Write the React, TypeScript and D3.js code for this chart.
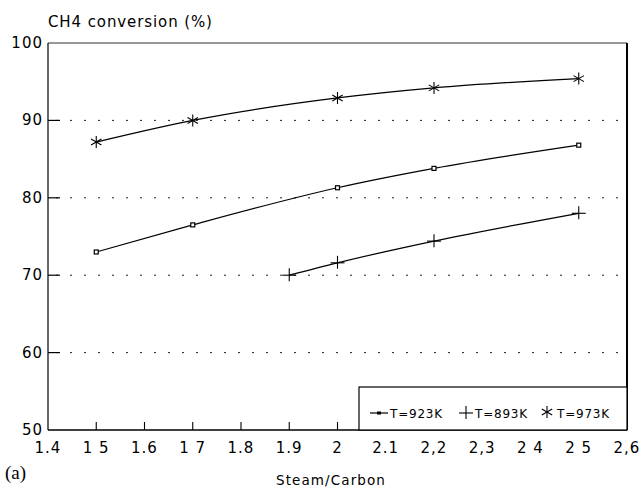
import React from 'react';
import * as d3 from 'd3';

// values
const steamCarbon923 = [1.5, 1.7, 2.0, 2.2, 2.5];
const conv923 = [73.0, 76.5, 81.3, 83.8, 86.8];
const steamCarbon893 = [1.9, 2.0, 2.2, 2.5];
const conv893 = [70.0, 71.6, 74.4, 78.0];
const steamCarbon973 = [1.5, 1.7, 2.0, 2.2, 2.5];
const conv973 = [87.2, 90.0, 92.9, 94.2, 95.4];

const xTicks = [1.4, 1.5, 1.6, 1.7, 1.8, 1.9, 2.0, 2.1, 2.2, 2.3, 2.4, 2.5, 2.6];
const xTickLabels = ['1.4', '1 5', '1.6', '1 7', '1.8', '1.9', '2', '2.1', '2,2', '2,3', '2 4', '2 5', '2,6'];
const yTicks = [50, 60, 70, 80, 90, 100];
const gridValues = [60, 70, 80, 90];
const legendLabels = ['T=923K', 'T=893K', 'T=973K'];

const W = 644;
const H = 489;
const left = 48;
const right = 627;
const top = 43;
const bottom = 430;

const x = d3.scaleLinear().domain([1.4, 2.6]).range([left, right]);
const y = d3.scaleLinear().domain([50, 100]).range([bottom, top]);

const line = d3
  .line<[number, number]>()
  .x(d => x(d[0]))
  .y(d => y(d[1]))
  .curve(d3.curveMonotoneX);

const zip = (a: number[], b: number[]) => a.map((v, i) => [v, b[i]] as [number, number]);

const font = '"DejaVu Sans", Verdana, sans-serif';

const Square = ({ cx, cy }: { cx: number; cy: number }) => (
  <rect x={cx - 2} y={cy - 2} width={4} height={4} fill="white" stroke="black" strokeWidth={1.2} />
);

const Plus = ({ cx, cy }: { cx: number; cy: number }) => (
  <g stroke="black" strokeWidth={1.1}>
    <line x1={cx - 7} x2={cx + 7} y1={cy} y2={cy} />
    <line x1={cx} x2={cx} y1={cy - 7} y2={cy + 6} />
  </g>
);

const Star = ({ cx, cy }: { cx: number; cy: number }) => {
  const r = 6;
  const angles = [90, 30, 150];
  return (
    <g stroke="black" strokeWidth={1.1}>
      {angles.map(a => {
        const dx = r * Math.cos((a * Math.PI) / 180);
        const dy = r * Math.sin((a * Math.PI) / 180);
        return <line key={a} x1={cx - dx} y1={cy - dy} x2={cx + dx} y2={cy + dy} />;
      })}
    </g>
  );
};

export default function App() {
  const d923 = zip(steamCarbon923, conv923);
  const d893 = zip(steamCarbon893, conv893);
  const d973 = zip(steamCarbon973, conv973);

  const legendY = 413;

  return (
    <svg
      width={W}
      height={H}
      style={{ position: 'absolute', left: 0, top: 0, background: 'white' }}
    >
      <rect width={W} height={H} fill="white" />

      {/* dotted gridlines */}
      {gridValues.map(v => (
        <line
          key={v}
          x1={left}
          x2={right}
          y1={y(v)}
          y2={y(v)}
          stroke="#222"
          strokeWidth={1}
          strokeDasharray="2,12"
          strokeDashoffset={-8}
        />
      ))}

      {/* y ticks pointing inward */}
      {gridValues.map(v => (
        <line key={'yt' + v} x1={left} x2={left + 12} y1={y(v)} y2={y(v)} stroke="black" strokeWidth={1.2} />
      ))}

      {/* x ticks pointing up */}
      {xTicks.slice(1, -1).map(v => (
        <line key={'xt' + v} x1={x(v)} x2={x(v)} y1={bottom} y2={bottom - 8} stroke="black" strokeWidth={1.1} />
      ))}

      {/* frame */}
      <line x1={left} x2={right} y1={top} y2={top} stroke="#333" strokeWidth={1} />
      <line x1={left} x2={left} y1={top} y2={bottom} stroke="black" strokeWidth={1.2} />
      <line x1={left} x2={right} y1={bottom} y2={bottom} stroke="black" strokeWidth={1.3} />
      <line x1={right} x2={right} y1={top} y2={bottom} stroke="black" strokeWidth={2} />

      {/* series lines */}
      {[d923, d893, d973].map((d, i) => (
        <path key={i} d={line(d) || ''} fill="none" stroke="black" strokeWidth={1.2} />
      ))}

      {d923.map((d, i) => (
        <Square key={'s' + i} cx={x(d[0])} cy={y(d[1])} />
      ))}
      {d893.map((d, i) => (
        <Plus key={'p' + i} cx={x(d[0])} cy={y(d[1])} />
      ))}
      {d973.map((d, i) => (
        <Star key={'a' + i} cx={x(d[0])} cy={y(d[1])} />
      ))}

      {/* y tick labels */}
      {yTicks.map(v => (
        <text
          key={'yl' + v}
          x={left - 5}
          y={y(v) + 5}
          textAnchor="end"
          fontFamily={font}
          fontSize={15}
          letterSpacing={1}
          fill="black"
        >
          {v}
        </text>
      ))}

      {/* x tick labels */}
      {xTicks.map((v, i) => (
        <text
          key={'xl' + v}
          x={x(v)}
          y={bottom + 23}
          textAnchor="middle"
          fontFamily={font}
          fontSize={15}
          letterSpacing={1}
          fill="black"
        >
          {xTickLabels[i]}
        </text>
      ))}

      {/* legend */}
      <rect x={359} y={387} width={right - 359} height={bottom - 387} fill="white" stroke="black" strokeWidth={1.2} />
      <line x1={370} x2={388} y1={legendY} y2={legendY} stroke="black" strokeWidth={1.2} />
      <rect x={377} y={legendY - 1.5} width={4} height={3} fill="black" />
      <text x={390} y={legendY + 5} fontFamily={font} fontSize={12} letterSpacing={0.8} fill="black">
        {legendLabels[0]}
      </text>
      <Plus cx={466} cy={legendY} />
      <text x={475} y={legendY + 5} fontFamily={font} fontSize={12} letterSpacing={0.8} fill="black">
        {legendLabels[1]}
      </text>
      <Star cx={547} cy={legendY - 1} />
      <text x={557} y={legendY + 5} fontFamily={font} fontSize={12} letterSpacing={0.8} fill="black">
        {legendLabels[2]}
      </text>

      {/* titles */}
      <text x={48} y={27} fontFamily={font} fontSize={15} letterSpacing={0.9} fill="black">
        CH4 conversion (%)
      </text>
      <text x={331} y={485} textAnchor="middle" fontFamily={font} fontSize={13.5} letterSpacing={1.1} fill="black">
        Steam/Carbon
      </text>
      <text x={5} y={479} fontFamily='"Liberation Serif", "DejaVu Serif", serif' fontSize={19} fill="black">
        (a)
      </text>
    </svg>
  );
}
